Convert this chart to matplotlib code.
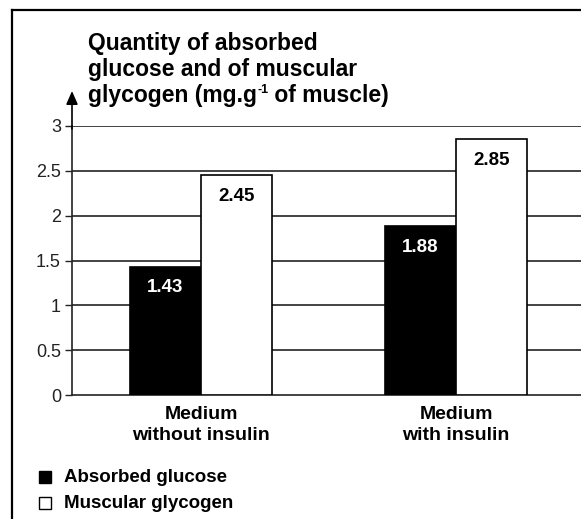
import matplotlib
matplotlib.use("Agg")
import matplotlib.pyplot as plt
from matplotlib.lines import Line2D
from matplotlib.patches import Rectangle

plt.rcParams['font.family'] = ['Liberation Sans', 'DejaVu Sans']

categories = ["Medium\nwithout insulin", "Medium\nwith insulin"]
absorbed_glucose = [1.43, 1.88]
muscular_glycogen = [2.45, 2.85]
series_names = ["Absorbed glucose", "Muscular glycogen"]
yticks = [0, 0.5, 1, 1.5, 2, 2.5, 3]
ytick_labels = ["0", "0.5", "1", "1.5", "2", "2.5", "3"]
title_lines = ["Quantity of absorbed", "glucose and of muscular"]
title_last = ("glycogen (mg.g", "-1", " of muscle)")

W, H = 581, 519
fig = plt.figure(figsize=(W / 100, H / 100), dpi=100)

ax_left, ax_right = 72 / W, 1.0
ax_bottom, ax_top = 1 - 395 / H, 1 - 126 / H
ax = fig.add_axes([ax_left, ax_bottom, ax_right - ax_left, ax_top - ax_bottom])

x = list(range(len(categories)))
bw = 0.28
ax.set_xlim(-0.506, 1.49)
ax.set_ylim(0, 3)

for yv in yticks[1:]:
    ax.axhline(yv, color="#222222", lw=1.2, zorder=1)

ax.bar([xi - bw / 2 for xi in x], absorbed_glucose, width=bw, color="black",
       edgecolor="black", lw=1.2, zorder=3)
ax.bar([xi + bw / 2 for xi in x], muscular_glycogen, width=bw, color="white",
       edgecolor="black", lw=1.2, zorder=3)

px_per_unit = (395 - 126) / 3.0
off = 21 / px_per_unit
for xi, v in zip(x, absorbed_glucose):
    ax.text(xi - bw / 2, v - off, f"{v:.2f}", color="white", ha="center", va="center",
            fontsize=13.5, fontweight="bold", zorder=4)
for xi, v in zip(x, muscular_glycogen):
    ax.text(xi + bw / 2, v - off, f"{v:.2f}", color="black", ha="center", va="center",
            fontsize=13.5, fontweight="bold", zorder=4)

for s in ["top", "right"]:
    ax.spines[s].set_visible(False)
ax.spines["left"].set_color("#222222")
ax.spines["bottom"].set_color("#222222")
ax.spines["left"].set_linewidth(1.2)
ax.spines["bottom"].set_linewidth(1.2)

ax.set_yticks(yticks)
ax.set_yticklabels(ytick_labels, fontsize=13, color="#222222")
ax.tick_params(axis="y", length=5, width=1.0, pad=3, color="#222222")
ax.set_xticks(x)
ax.set_xticklabels(categories, fontsize=14, fontweight="bold", linespacing=1.32)
ax.tick_params(axis="x", length=0, pad=8)

# axis arrow
ax.annotate("", xy=(0, 1 + (126 - 91) / (395 - 126)), xytext=(0, 0.99),
            xycoords="axes fraction", textcoords="axes fraction",
            arrowprops=dict(arrowstyle="-|>,head_length=0.8,head_width=0.35",
                            color="black", lw=1.2, shrinkA=0, shrinkB=0),
            annotation_clip=False)

# title (three lines, last with superscript)
tfs = 16.5
baselines = [50, 76, 102]
for line, b in zip(title_lines, baselines[:2]):
    fig.text(88 / W, 1 - b / H, line, ha="left", va="baseline", fontsize=tfs, fontweight="bold")
renderer = fig.canvas.get_renderer()
t1 = fig.text(88 / W, 1 - baselines[2] / H, title_last[0], ha="left", va="baseline",
              fontsize=tfs, fontweight="bold")
e1 = t1.get_window_extent(renderer)
t2 = fig.text((e1.x1 + 1) / W, 1 - (baselines[2] - 9) / H, title_last[1], ha="left",
              va="baseline", fontsize=9, fontweight="bold")
e2 = t2.get_window_extent(renderer)
fig.text((e2.x1 - 1) / W, 1 - baselines[2] / H, title_last[2], ha="left", va="baseline",
         fontsize=tfs, fontweight="bold")

# legend
for i, (name, fc) in enumerate(zip(series_names, ["black", "white"])):
    yc = 1 - (477 + i * 26) / H
    fig.patches.append(Rectangle((38.5 / W, yc - 6 / H), 12 / W, 12 / H, transform=fig.transFigure,
                                 facecolor=fc, edgecolor="black", lw=1.0))
    fig.text(64 / W, yc, name, ha="left", va="center", fontsize=13.5, fontweight="bold")

# border
fig.add_artist(Line2D([12 / W, 12 / W], [-0.01, 1 - 10 / H], transform=fig.transFigure,
                      color="black", lw=1.6))
fig.add_artist(Line2D([12 / W, 1.01], [1 - 10 / H, 1 - 10 / H], transform=fig.transFigure,
                      color="black", lw=1.6))

fig.savefig("out.png", dpi=100, facecolor="white")
